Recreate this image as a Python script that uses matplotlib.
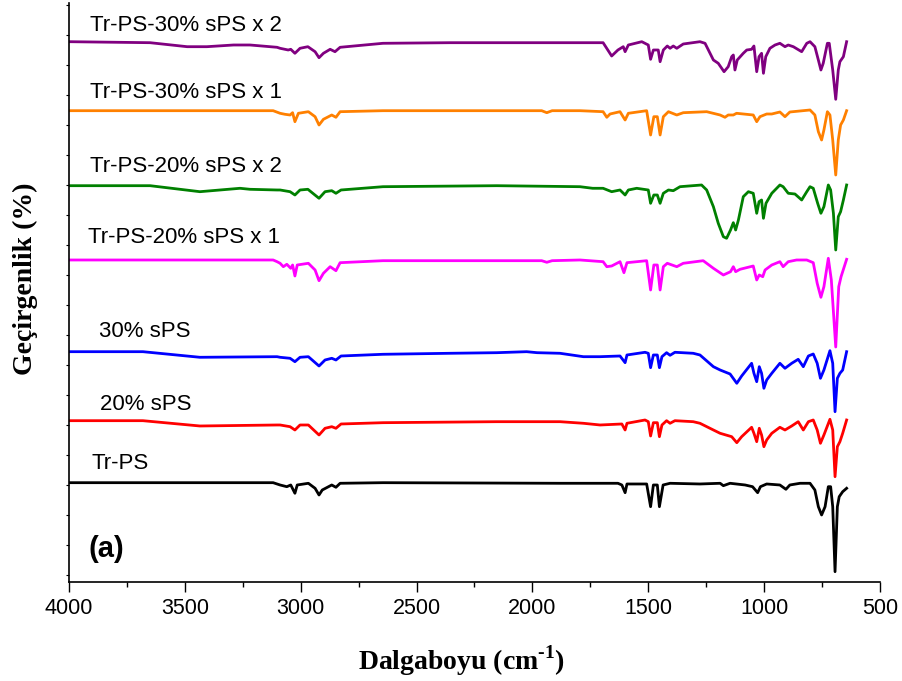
import numpy as np
import matplotlib
matplotlib.use("Agg")
import matplotlib.pyplot as plt
from matplotlib.ticker import MultipleLocator, FixedLocator

# FTIR spectra, wavenumber (cm-1) vs transmittance (a.u., stacked as in the figure)
# Tr-PS-30% sPS x 2
p30x2_wn = [4000, 3650, 3490, 3405, 3290, 3219, 3102, 3089, 3054, 3043, 3025, 3003, 2969, 2938,
            2921, 2902, 2873, 2852, 2830, 2645, 2356, 1795, 1695, 1658, 1631, 1608, 1600, 1586,
            1528, 1500, 1490, 1478, 1457, 1449, 1435, 1418, 1406, 1392, 1377, 1349, 1277, 1255,
            1219, 1198, 1173, 1155, 1140, 1133, 1126, 1116, 1090, 1075, 1054, 1044, 1032, 1022,
            1011, 1003, 993, 975, 953, 932, 910, 896, 874, 838, 816, 802, 781, 766, 755, 745,
            727, 719, 704, 691, 680, 673, 658, 644]
p30x2_t = [540.3, 539.3, 535.3, 535.3, 537, 537, 534.7, 533.7, 532, 532.7, 528.7, 533.7, 535.3, 530.3,
           524.3, 528.7, 532.7, 530.3, 534.7, 538.7, 539.3, 539.3, 539.3, 526, 532, 535.3, 530.3, 537,
           540.3, 537, 522.7, 532, 532, 520.3, 532, 536, 533.7, 536, 533.7, 538, 540.3, 538.7,
           522, 518.7, 510.3, 515.3, 525.3, 527, 512, 522, 528.7, 532, 532.7, 536, 510.3, 525.3,
           528.7, 508.7, 525.3, 533.7, 537, 538.7, 535.3, 537, 535.3, 530.3, 538.7, 540.3, 535.3, 522, 512, 518.7,
           538.7, 538.7, 512, 482.7, 512, 520.3, 525.3, 540.3]

# Tr-PS-30% sPS x 1
p30x1_wn = [4000, 3119, 3089, 3068, 3046, 3035, 3025, 3010, 2967, 2938, 2921, 2902, 2866, 2848,
            2830, 2645, 1960, 1938, 1915, 1795, 1695, 1679, 1665, 1622, 1600, 1586, 1507, 1490,
            1476, 1461, 1449, 1435, 1413, 1377, 1349, 1248, 1190, 1169, 1155, 1133, 1119, 1047,
            1032, 1018, 989, 967, 932, 910, 889, 802, 781, 766, 752, 742, 727, 716, 704, 691,
            680, 670, 658, 644]
p30x1_t = [471.3, 471.3, 468.7, 467.7, 467, 469.3, 460.3, 468.7, 470.3, 465.3, 457, 462.7, 467, 464.7,
           470.3, 471.3, 471.3, 469.3, 471.3, 471.3, 470.3, 464.7, 468, 470.3, 462, 468.7, 471.3, 447,
           465.3, 465.3, 447, 465.3, 470.3, 467, 469.3, 470.3, 467, 464.7, 467, 467, 468.7, 467,
           460.3, 465.3, 468, 468, 470, 465.3, 470, 472, 467, 450.3, 442, 452, 470.3, 467, 442, 407,
           442, 457, 462, 471.3]

# Tr-PS-20% sPS x 2
p20x2_wn = [4000, 3650, 3435, 3262, 3219, 3102, 3089, 3046, 3025, 3003, 2969, 2921, 2895, 2866,
            2848, 2826, 2645, 2154, 1795, 1740, 1695, 1658, 1622, 1600, 1586, 1550, 1500, 1490,
            1476, 1461, 1449, 1435, 1413, 1392, 1363, 1270, 1248, 1219, 1198, 1176, 1162, 1145,
            1133, 1123, 1111, 1090, 1068, 1047, 1032, 1022, 1011, 1003, 992, 967, 932, 918, 896,
            867, 838, 816, 802, 788, 769, 755, 742, 723, 713, 701, 691, 680, 670, 658, 644]
p20x2_t = [396.3, 396.3, 390.3, 393.7, 392.7, 392, 392, 390.3, 387, 392, 392.7, 383.7, 390.3, 391.3,
           388.7, 392, 395.3, 396.3, 395.3, 393.7, 393.7, 390.3, 392, 387, 392, 393.7, 392, 378.7,
           387, 387, 378.7, 388.7, 392, 391.3, 395.3, 397, 392, 375.3, 358.7, 345.3, 343.7, 352,
           359.3, 352, 362, 385.3, 390.3, 388.7, 368.7, 380.3, 382, 363.7, 378.7, 388.7, 397, 395.3, 388.7,
           388, 382, 390.3, 395.3, 393.7, 378.7, 368.7, 375.3, 397, 392, 368.7, 332, 365.3, 370.3, 382, 397]

# Tr-PS-20% sPS x 1
p20x1_wn = [4000, 3119, 3102, 3089, 3075, 3060, 3043, 3035, 3025, 3015, 2967, 2938, 2921, 2902,
            2873, 2848, 2830, 2645, 1960, 1938, 1915, 1795, 1695, 1679, 1658, 1622, 1605, 1592,
            1507, 1490, 1476, 1461, 1449, 1435, 1418, 1377, 1349, 1263, 1219, 1176, 1145, 1133,
            1123, 1104, 1047, 1032, 1021, 1006, 996, 967, 932, 918, 896, 860, 816, 788, 771, 755,
            742, 723, 710, 691, 678, 668, 644]
p20x1_t = [322, 322, 320.3, 318.7, 315.3, 317.7, 313.7, 317, 306, 317, 318.7, 312, 301.3, 308.7,
           315.3, 311.3, 319.3, 321.3, 321.3, 319.7, 321.3, 322, 320.3, 315.3, 316, 320.3, 309.3, 319.3,
           321.3, 292, 317, 317, 292, 315.3, 318.7, 315.3, 318.7, 321.3, 313.7, 307, 310.3, 315.3,
           310.3, 312.7, 316, 302, 307, 305.3, 312, 317, 320.3, 315.3, 320.3, 322, 322, 319.3, 298.7, 284.7,
           295.3, 323.7, 302, 235, 295.3, 305.3, 322.7]

# 30% sPS
s30_wn = [4000, 3681, 3435, 3102, 3089, 3046, 3025, 3003, 2967, 2921, 2895, 2866, 2848, 2826,
          2645, 2356, 2154, 2025, 1980, 1881, 1780, 1708, 1622, 1600, 1592, 1514, 1500, 1490,
          1478, 1461, 1452, 1441, 1421, 1406, 1385, 1306, 1277, 1219, 1190, 1147, 1118, 1097,
          1054, 1044, 1032, 1021, 1011, 1001, 989, 967, 932, 910, 881, 853, 831, 809, 788, 771,
          757, 742, 716, 704, 694, 684, 673, 661, 644]
s30_t = [230.3, 230.3, 224.7, 225.3, 224.7, 223.7, 220.3, 224.7, 225.3, 216, 222, 223.7, 222, 226,
         227.7, 228.7, 229.3, 230.3, 229.3, 228.7, 225.3, 225.3, 226, 219.3, 227, 229.7, 228.7, 214.3,
         227, 227, 214.3, 225.3, 229.3, 226.7, 229.7, 228.7, 227, 215.3, 212, 208, 198.7, 206,
         218.7, 208.7, 200.3, 215.3, 208.7, 193.7, 202, 208.7, 218.7, 213.7, 218.7, 222.7, 215.3, 226, 228, 218.7,
         203.7, 212, 231.3, 218.7, 170.3, 203.7, 208.7, 212, 230.3]

# 20% sPS
s20_wn = [4000, 3681, 3435, 3102, 3089, 3046, 3025, 3003, 2967, 2921, 2895, 2866, 2848, 2826,
          2645, 2154, 1881, 1780, 1708, 1614, 1600, 1592, 1514, 1500, 1490, 1478, 1461, 1452,
          1441, 1421, 1406, 1385, 1306, 1277, 1219, 1190, 1140, 1118, 1097, 1054, 1044, 1032,
          1021, 1011, 1001, 989, 967, 932, 910, 881, 853, 831, 809, 788, 771, 757, 742, 716,
          704, 694, 684, 673, 661, 644]
s20_t = [161.3, 161.3, 156, 157, 157, 155.3, 152, 157, 157, 147, 153.7, 155.3, 153.7, 158,
         159.3, 160.3, 160.3, 158.7, 157, 158, 152, 158.7, 162, 160.3, 146, 159.3, 159.3, 145.3,
         157, 161.3, 158.7, 161.3, 160.3, 158.7, 152, 148.7, 145.3, 139.3, 145.3, 154.7, 148.7, 140.3,
         153.7, 147, 135.3, 142, 148.7, 154.7, 152, 156, 160.3, 152, 160.3, 162, 152, 138.7, 147, 162.7,
         152, 105.3, 135.3, 140.3, 148.7, 162]

# Tr-PS
trps_wn = [4000, 3119, 3089, 3060, 3043, 3025, 3015, 2967, 2938, 2921, 2907, 2866, 2848, 2830,
           2645, 1881, 1708, 1631, 1614, 1600, 1592, 1507, 1490, 1478, 1461, 1452, 1436, 1406,
           1277, 1190, 1176, 1147, 1082, 1050, 1028, 1016, 989, 932, 906, 889, 845, 802, 781,
           766, 752, 737, 723, 713, 704, 694, 684, 676, 661, 644]
trps_t = [99.3, 99.3, 97, 95.3, 97, 88.7, 97, 98.7, 93.7, 87, 92, 97, 94.7, 98.7,
          99.3, 98.7, 98.7, 98.7, 97, 89.3, 98, 98, 75.3, 97, 97, 75.3, 97, 98.7,
          98, 98.7, 96.3, 98.7, 97, 95.3, 89.3, 95.3, 98, 97, 92.7, 97, 98.7, 98.7, 92,
          75.3, 67, 75.3, 95.3, 95.3, 75.3, 10.3, 75.3, 85.3, 90.3, 93.7]

series = [
    (p30x2_wn, p30x2_t, '#800080', 'Tr-PS-30% sPS x 2', 3909, 551),
    (p30x1_wn, p30x1_t, '#ff8000', 'Tr-PS-30% sPS x 1', 3909, 484),
    (p20x2_wn, p20x2_t, '#008000', 'Tr-PS-20% sPS x 2', 3909, 410),
    (p20x1_wn, p20x1_t, '#ff00ff', 'Tr-PS-20% sPS x 1', 3918, 339),
    (s30_wn, s30_t, '#0000ff', '30% sPS', 3870, 245),
    (s20_wn, s20_t, '#ff0000', '20% sPS', 3866, 172),
    (trps_wn, trps_t, '#000000', 'Tr-PS', 3905, 113),
]

plt.rcParams['mathtext.fontset'] = 'custom'
plt.rcParams['mathtext.rm'] = 'Liberation Serif:bold'
plt.rcParams['mathtext.bf'] = 'Liberation Serif:bold'

fig = plt.figure(figsize=(9.02, 6.81), dpi=100)
ax = fig.add_axes([0.0765, 0.1454, 0.8991, 0.8502])

for wn, t, col, name, lx, ly in series:
    ax.plot(wn, t, color=col, lw=2.0, solid_joinstyle='round')
    ax.text(lx, ly, name, fontsize=16, family='Liberation Sans', va='baseline', ha='left')

ax.text(3915, 25, '(a)', fontsize=21, fontweight='bold', family='Liberation Sans', va='baseline')

ax.set_xlim(4000, 500)
ax.set_ylim(0, 579)
ax.xaxis.set_major_locator(MultipleLocator(500))
ax.xaxis.set_minor_locator(MultipleLocator(250))
ax.yaxis.set_major_locator(FixedLocator(np.arange(7, 579, 30)))
ax.set_yticklabels([])
ax.tick_params(axis='x', which='major', length=7.2, width=1.0, direction='out', pad=4,
               labelsize=15.5)
ax.tick_params(axis='x', which='minor', length=3.6, width=1.0, direction='out')
ax.tick_params(axis='y', which='major', length=2, width=0.8, direction='out')
for lab in ax.get_xticklabels():
    lab.set_family('Liberation Sans')
for s in ['top', 'right']:
    ax.spines[s].set_visible(False)
for s in ['left', 'bottom']:
    ax.spines[s].set_linewidth(1.2)

fig.text(0.5116, 0.0172, r'Dalgaboyu (cm$^{\text{-1}}$)', fontsize=20, fontweight='bold',
         family='Liberation Serif', ha='center', va='baseline')
fig.text(0.0283, 0.59, 'Geçirgenlik (%)', fontsize=20, fontweight='bold',
         family='Liberation Serif', ha='center', va='center', rotation=90)

fig.savefig('out.png', dpi=100)
